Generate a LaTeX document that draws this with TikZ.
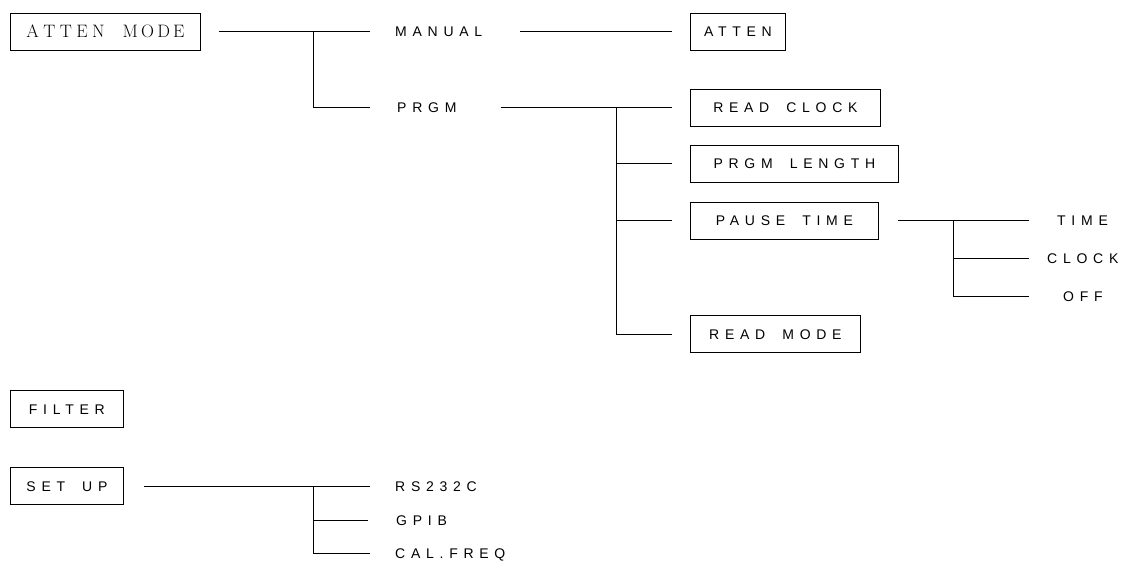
\documentclass[tikz,border=0pt]{standalone}
\usepackage{fontspec}
\newfontfamily\lab{Liberation Sans}[LetterSpace=41]
\newcommand\wsp{\hspace{17pt}}
\newcommand\sg{\hspace{4.5pt}}
\newcommand\sgm{\hspace{3.2pt}}
\begin{document}
\begin{tikzpicture}[x=1pt,y=-1pt,
  lbl/.style={font=\fontsize{14}{16}\selectfont\lab, inner sep=0pt, text height=10pt, text depth=0pt},
  box/.style={lbl, draw, line width=0.8pt, minimum height=37pt, anchor=west},
  conn/.style={line width=0.8pt}]
\useasboundingbox (0,0) rectangle (1126,563);
% nodes
\node[box, minimum width=190pt, text height=12pt, font=\fontsize{18}{20}\selectfont\rmfamily] (am) at (10,31.5)
  {A\sg T\sg T\sg E\sg N\hspace{18pt}M\sgm O\sgm D\sgm E\hspace{3pt}};
\node[lbl, anchor=west] (manual) at (395,31.5) {MANUAL};
\node[box, minimum width=95pt] (atten) at (690,31.5) {ATTEN};
\node[lbl, anchor=west] (prgm) at (397,107.5) {PRGM};
\node[box, minimum width=190pt] (rc) at (690,107.5) {READ\wsp CLOCK\hspace{6pt}};
\node[box, minimum width=208pt] (pl) at (690,163.5) {PRGM\wsp LENGTH\hspace{6pt}};
\node[box, minimum width=188pt] (pt) at (690,220.5) {PAUSE\wsp TIME\hspace{6pt}};
\node[box, minimum width=170pt] (rm) at (690,334) {READ\wsp MODE\hspace{6pt}};
\node[lbl, anchor=west] (time) at (1057,220.5) {TIME};
\node[lbl, anchor=west] (clock) at (1047,258.5) {CLOCK};
\node[lbl, anchor=west] (off) at (1063,296) {OFF};
\node[box, minimum width=113pt] (filter) at (10,409) {FILTER};
\node[box, minimum width=113pt] (setup) at (10,486) {SET\wsp UP};
\node[lbl, anchor=west] (rs) at (395,486) {RS232C};
\node[lbl, anchor=west] (gpib) at (396,520) {GPIB};
\node[lbl, anchor=west] (cal) at (395,553) {CAL.FREQ};
% junctions
\coordinate (j1) at (313,31.5);
\coordinate (j2) at (616,107.5);
\coordinate (j3) at (953,220.5);
\coordinate (j4) at (313,486);
% connectors
\draw[conn] ([xshift=18pt]am.east) -- ([xshift=-25pt]manual.west);
\draw[conn] (j1) |- ([xshift=-27pt]prgm.west);
\draw[conn] ([xshift=38pt]manual.east) -- ([xshift=-18pt]atten.west);
\draw[conn] ([xshift=44pt]prgm.east) -- ([xshift=-18pt]rc.west);
\draw[conn] (j2) |- ([xshift=-18pt]pl.west);
\draw[conn] (j2) |- ([xshift=-18pt]pt.west);
\draw[conn] (j2) |- ([xshift=-18pt]rm.west);
\draw[conn] ([xshift=19pt]pt.east) -- ([xshift=-28pt]time.west);
\draw[conn] (j3) |- ([xshift=-18pt]clock.west);
\draw[conn] (j3) |- ([xshift=-34pt]off.west);
\draw[conn] ([xshift=20pt]setup.east) -- ([xshift=-25pt]rs.west);
\draw[conn] (j4) |- ([xshift=-28pt]gpib.west);
\draw[conn] (j4) |- ([xshift=-25pt]cal.west);
\end{tikzpicture}
\end{document}
